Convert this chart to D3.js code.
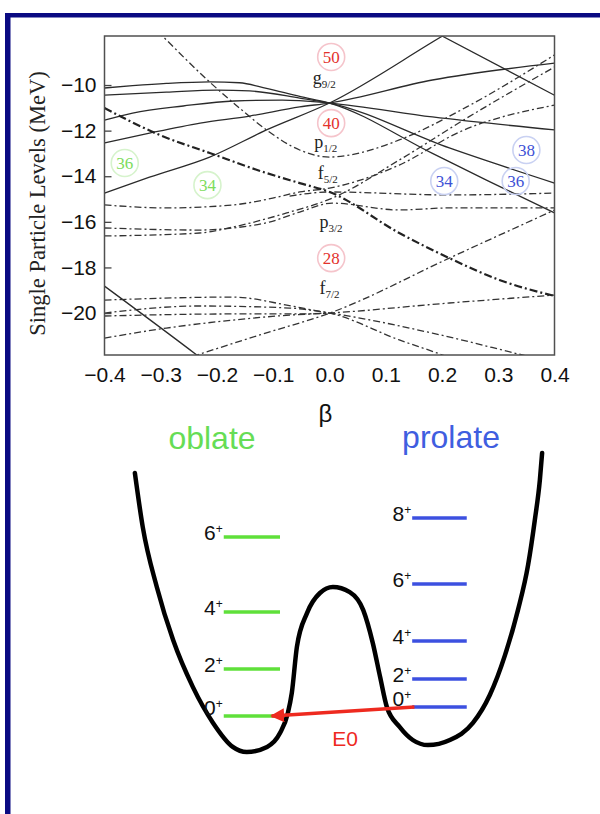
<!DOCTYPE html>
<html>
<head>
<meta charset="utf-8">
<script src="https://cdn.jsdelivr.net/npm/d3@7"></script>
<style>
  body { margin: 0; background: #fff; }
  svg { display: block; }
</style>
</head>
<body>
<div id="chart"></div>
<script>
'use strict'

const betaTicks = [-0.4, -0.3, -0.2, -0.1, 0.0, 0.1, 0.2, 0.3, 0.4]
const energyTicks = [-10, -12, -14, -16, -18, -20]

// positive parity orbits, [beta, E (MeV)]
const solidLevels = [
  [[-0.4, -10.13], [-0.35, -10.03], [-0.29, -9.93], [-0.213, -9.86], [-0.16, -9.9], [-0.112, -10.15], [-0.053, -10.5], [0, -10.79], [0.183, -13.0], [0.279, -14.17], [0.4, -15.61]],
  [[-0.4, -10.44], [-0.29, -10.31], [-0.2, -10.22], [-0.142, -10.26], [-0.053, -10.57], [0, -10.79], [0.213, -12.76], [0.4, -14.3]],
  [[-0.4, -11.54], [-0.35, -11.23], [-0.26, -10.92], [-0.17, -10.7], [-0.084, -10.66], [0, -10.79], [0.183, -11.4], [0.4, -11.97]],
  [[-0.4, -12.54], [-0.32, -12.11], [-0.23, -11.67], [-0.142, -11.36], [-0.053, -10.96], [0, -10.79], [0.183, -9.78], [0.4, -9.04]],
  [[-0.4, -14.74], [-0.32, -14.04], [-0.213, -13.16], [-0.112, -11.97], [0, -10.79], [0.201, -7.85], [0.4, -5.0]],
  [[0.12, -6.8], [0.2, -7.85], [0.4, -10.45]],
  [[-0.4, -18.82], [-0.236, -21.84], [-0.18, -22.9]]
]

// negative parity orbits
const dashedLevels = [
  [[-0.4, -5.3], [-0.297, -7.85], [-0.213, -9.87], [-0.16, -11.01], [-0.112, -11.97], [-0.053, -12.85], [0, -13.16], [0.036, -13.07], [0.124, -12.41], [0.244, -10.96], [0.4, -8.68]],
  [[-0.4, -15.26], [-0.29, -15.39], [-0.172, -15.26], [-0.101, -14.96], [-0.053, -14.69], [0, -14.52], [0.124, -13.51], [0.231, -12.06], [0.4, -10.88]],
  [[-0.4, -16.27], [-0.231, -16.36], [-0.172, -16.27], [-0.107, -16.01], [-0.053, -15.57], [0.005, -15.18], [0.124, -15.48], [0.213, -15.39], [0.4, -15.39]],
  [[-0.4, -16.62], [-0.231, -16.49], [-0.172, -16.23], [-0.076, -15.61], [0.005, -14.96], [0.124, -13.29], [0.244, -11.45], [0.4, -9.21]],
  [[-0.071, -14.87], [0, -14.69], [0.213, -14.82], [0.4, -14.74]],
  [[-0.4, -19.43], [-0.172, -19.3], [-0.076, -19.65], [-0.03, -19.87], [0, -20.0], [0.124, -21.18], [0.201, -21.84], [0.25, -22.32]],
  [[-0.4, -20.0], [-0.231, -19.69], [-0.071, -19.78], [0, -20.0], [0.183, -20.88], [0.343, -21.84], [0.41, -22.24]],
  [[-0.4, -20.13], [-0.172, -20.04], [-0.053, -20.04], [0, -20.0]],
  [[-0.4, -21.1], [-0.29, -20.66], [-0.172, -20.31], [-0.071, -20.09], [0, -20.0], [0.213, -19.56], [0.4, -19.21]],
  [[-0.32, -22.5], [-0.236, -21.84], [-0.124, -20.96], [0.005, -19.96], [0.213, -17.59], [0.4, -15.48]]
]

const heavyDashedLevels = [
  [[-0.4, -11.01], [-0.302, -12.19], [-0.213, -12.98], [-0.112, -13.86], [-0.053, -14.3], [0, -14.69], [0.124, -16.49], [0.213, -17.59], [0.302, -18.55], [0.4, -19.25]]
]

const magicNumbers = [
  { label: '50', beta: 0.003, energy: -8.77, group: 'sphere' },
  { label: '40', beta: 0.003, energy: -11.67, group: 'sphere' },
  { label: '28', beta: 0.003, energy: -17.59, group: 'sphere' },
  { label: '36', beta: -0.364, energy: -13.42, group: 'oblate' },
  { label: '34', beta: -0.217, energy: -14.39, group: 'oblate' },
  { label: '34', beta: 0.204, energy: -14.21, group: 'prolate' },
  { label: '36', beta: 0.331, energy: -14.21, group: 'prolate' },
  { label: '38', beta: 0.35, energy: -12.85, group: 'prolate' }
]

const orbitals = [
  { l: 'g', j: '9/2', beta: -0.03, energy: -9.96 },
  { l: 'p', j: '1/2', beta: -0.027, energy: -12.76 },
  { l: 'f', j: '5/2', beta: -0.021, energy: -14.12 },
  { l: 'p', j: '3/2', beta: -0.018, energy: -16.27 },
  { l: 'f', j: '7/2', beta: -0.018, energy: -19.17 }
]

// schematic potential energy vs deformation
const potential = [
  [-0.346, 9.3], [-0.332, 7.5], [-0.307, 5.5], [-0.278, 3.73], [-0.243, 2.17], [-0.207, 0.97],
  [-0.172, 0.17], [-0.147, 0], [-0.111, 0.17], [-0.088, 0.63], [-0.074, 1.3], [-0.067, 1.97],
  [-0.058, 3.5], [-0.04, 4.63], [-0.017, 5.3], [0.006, 5.5], [0.036, 5.33], [0.06, 4.73],
  [0.077, 3.63], [0.09, 2.5], [0.102, 1.5], [0.125, 0.83], [0.148, 0.4], [0.175, 0.23],
  [0.214, 0.4], [0.255, 0.97], [0.285, 1.9], [0.312, 3.23], [0.335, 4.73], [0.353, 6.23],
  [0.365, 7.73], [0.374, 9.07], [0.378, 9.97]
]

const oblateBand = [
  { spin: 0, energy: 1.2 }, { spin: 2, energy: 2.77 }, { spin: 4, energy: 4.67 }, { spin: 6, energy: 7.17 }
]
const prolateBand = [
  { spin: 0, energy: 1.5 }, { spin: 2, energy: 2.43 }, { spin: 4, energy: 3.7 }, { spin: 6, energy: 5.6 }, { spin: 8, energy: 7.8 }
]

const sans = 'Liberation Sans, Arial, Helvetica, sans-serif'
const serif = 'Liberation Serif, Times New Roman, serif'
const colors = {
  sphere: { text: '#e3322c', ring: '#f5c4cb' },
  oblate: { text: '#7ddc5c', ring: '#d6f3cc' },
  prolate: { text: '#3e52d6', ring: '#c9d1f2' }
}

const svg = d3.select('#chart').append('svg')
  .attr('width', 600)
  .attr('height', 814)

// navy frame of the slide
svg.append('rect').attr('x', 5).attr('y', 13).attr('width', 595).attr('height', 4.5).attr('fill', '#0a0a82')
svg.append('rect').attr('x', 5).attr('y', 13).attr('width', 5.5).attr('height', 801).attr('fill', '#0a0a82')

const x = d3.scaleLinear().domain([-0.4, 0.4]).range([104.5, 554.5])
const y = d3.scaleLinear().domain([-21.84, -7.85]).range([355, 36])

svg.append('clipPath').attr('id', 'plot-clip')
  .append('rect')
    .attr('x', x(-0.4)).attr('y', y(-7.85))
    .attr('width', x(0.4) - x(-0.4)).attr('height', y(-21.84) - y(-7.85))

const line = d3.line()
  .x(d => x(d[0]))
  .y(d => y(d[1]))
  .curve(d3.curveMonotoneX)

const plot = svg.append('g').attr('clip-path', 'url(#plot-clip)')

// magic number rings go under the lines
const rings = svg.append('g')
  .selectAll('g')
  .data(magicNumbers)
  .enter()
  .append('g')
    .attr('transform', d => `translate(${x(d.beta)},${y(d.energy)})`)

rings.append('circle')
  .attr('r', 13.5)
  .attr('fill', 'none')
  .attr('stroke', d => colors[d.group].ring)
  .attr('stroke-width', 1.6)

rings.append('text')
  .attr('text-anchor', 'middle')
  .attr('dy', '0.35em')
  .attr('font-family', serif)
  .attr('font-size', 17)
  .attr('fill', d => colors[d.group].text)
  .text(d => d.label)

plot.selectAll('.solid')
  .data(solidLevels)
  .enter()
  .append('path')
    .attr('class', 'solid')
    .attr('d', line)
    .attr('fill', 'none')
    .attr('stroke', '#2b2b2b')
    .attr('stroke-width', 1.3)

plot.selectAll('.dashed')
  .data(dashedLevels)
  .enter()
  .append('path')
    .attr('class', 'dashed')
    .attr('d', line)
    .attr('fill', 'none')
    .attr('stroke', '#333')
    .attr('stroke-width', 1.3)
    .attr('stroke-dasharray', '7,3,2,3')

plot.selectAll('.heavy')
  .data(heavyDashedLevels)
  .enter()
  .append('path')
    .attr('class', 'heavy')
    .attr('d', line)
    .attr('fill', 'none')
    .attr('stroke', '#222')
    .attr('stroke-width', 2.2)
    .attr('stroke-dasharray', '8,3,2,3')

// orbital labels at beta = 0
const orb = svg.append('g')
  .selectAll('text')
  .data(orbitals)
  .enter()
  .append('text')
    .attr('x', d => x(d.beta))
    .attr('y', d => y(d.energy))
    .attr('font-family', serif)
    .attr('font-size', 18)
    .attr('fill', '#222')
    .text(d => d.l)

orb.append('tspan')
  .attr('dy', 4)
  .attr('font-size', 11)
  .text(d => d.j)

svg.append('rect')
  .attr('x', x(-0.4)).attr('y', y(-7.85))
  .attr('width', x(0.4) - x(-0.4)).attr('height', y(-21.84) - y(-7.85))
  .attr('fill', 'none')
  .attr('stroke', '#505050')
  .attr('stroke-width', 1.5)

const yAxis = d3.axisLeft(y)
  .tickValues(energyTicks)
  .tickSizeInner(-7)
  .tickSizeOuter(0)
  .tickPadding(8)

svg.append('g')
  .attr('transform', `translate(${x(-0.4)},0)`)
  .call(yAxis)
  .call(g => g.select('.domain').remove())
  .call(g => g.selectAll('line').attr('stroke', '#444').attr('stroke-width', 1.3))
  .call(g => g.selectAll('text').attr('font-family', sans).attr('font-size', 21).attr('fill', '#111'))

const xAxis = d3.axisBottom(x)
  .tickValues(betaTicks)
  .tickSize(0)
  .tickPadding(12)
  .tickFormat(d3.format('.1f'))

svg.append('g')
  .attr('transform', `translate(0,${y(-21.84)})`)
  .call(xAxis)
  .call(g => g.select('.domain').remove())
  .call(g => g.selectAll('text').attr('font-family', sans).attr('font-size', 21).attr('fill', '#111'))

svg.append('text')
  .attr('transform', `translate(45,${(y(-7.85) + y(-21.84)) / 2 + 8}) rotate(-90)`)
  .attr('text-anchor', 'middle')
  .attr('font-family', serif)
  .attr('font-size', 22.5)
  .attr('fill', '#222')
  .text('Single Particle Levels (MeV)')

svg.append('text')
  .attr('x', x(0) - 4)
  .attr('y', 422)
  .attr('text-anchor', 'middle')
  .attr('font-family', sans)
  .attr('font-size', 24)
  .attr('fill', '#111')
  .text('β')

svg.append('text')
  .attr('x', 212).attr('y', 449)
  .attr('text-anchor', 'middle')
  .attr('font-family', sans)
  .attr('font-size', 32)
  .attr('fill', '#66dd55')
  .text('oblate')

svg.append('text')
  .attr('x', 451).attr('y', 448)
  .attr('text-anchor', 'middle')
  .attr('font-family', sans)
  .attr('font-size', 32)
  .attr('fill', '#3f5ee0')
  .text('prolate')

// lower panel: shape coexistence sketch
const v = d3.scaleLinear().domain([0, 10]).range([752, 452])

const potLine = d3.line()
  .x(d => x(d[0]))
  .y(d => v(d[1]))
  .curve(d3.curveMonotoneX)

svg.append('path')
  .datum(potential)
  .attr('d', potLine)
  .attr('fill', 'none')
  .attr('stroke', '#000')
  .attr('stroke-width', 4.5)
  .attr('stroke-linecap', 'round')

const oblateSpan = [-0.188, -0.088]
const prolateSpan = [0.147, 0.244]

function drawBand (band, span, color) {
  const g = svg.append('g')
    .selectAll('g')
    .data(band)
    .enter()
    .append('g')

  g.append('line')
    .attr('x1', x(span[0]))
    .attr('x2', x(span[1]))
    .attr('y1', d => v(d.energy))
    .attr('y2', d => v(d.energy))
    .attr('stroke', color)
    .attr('stroke-width', 3.5)

  // ground state labels sit a little above their line
  const label = g.append('text')
    .attr('x', x(span[0]) - 1)
    .attr('y', d => v(d.energy) + (d.spin === 0 ? -1 : 3))
    .attr('text-anchor', 'end')
    .attr('font-family', sans)
    .attr('font-size', 21)
    .attr('fill', '#111')
    .text(d => d.spin)

  label.append('tspan')
    .attr('dy', -7)
    .attr('font-size', 12)
    .text('+')
}

drawBand(oblateBand, oblateSpan, '#5fe03a')
drawBand(prolateBand, prolateSpan, '#3c50e0')

svg.append('defs').append('marker')
  .attr('id', 'head')
  .attr('viewBox', '0 0 10 10')
  .attr('refX', 9)
  .attr('refY', 5)
  .attr('markerWidth', 4)
  .attr('markerHeight', 4)
  .attr('orient', 'auto')
  .append('path')
    .attr('d', 'M0,0 L10,5 L0,10 z')
    .attr('fill', '#ee2a1f')

const e0From = [prolateSpan[0] + 0.004, prolateBand[0].energy]
const e0To = [-0.103, oblateBand[0].energy]

svg.append('line')
  .attr('x1', x(e0From[0]))
  .attr('y1', v(e0From[1]))
  .attr('x2', x(e0To[0]))
  .attr('y2', v(e0To[1]))
  .attr('stroke', '#ee2a1f')
  .attr('stroke-width', 3.5)
  .attr('marker-end', 'url(#head)')

svg.append('text')
  .attr('x', (x(e0From[0]) + x(e0To[0])) / 2 + 2)
  .attr('y', (v(e0From[1]) + v(e0To[1])) / 2 + 34)
  .attr('text-anchor', 'middle')
  .attr('font-family', sans)
  .attr('font-size', 21)
  .attr('fill', '#ee2a1f')
  .text('E0')
</script>
</body>
</html>
